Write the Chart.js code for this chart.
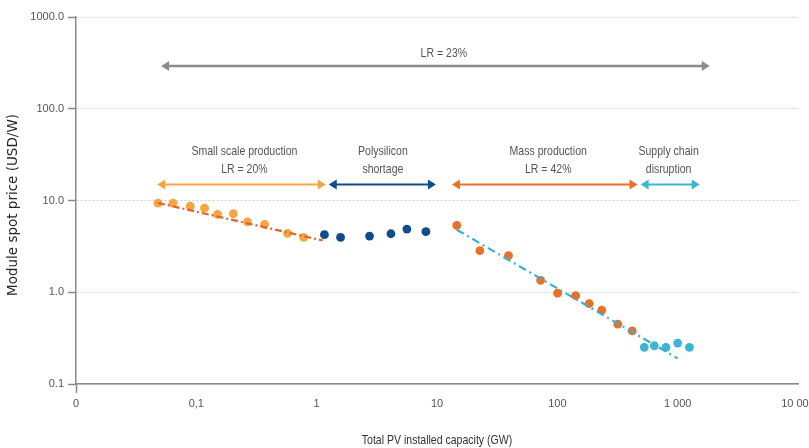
<!DOCTYPE html>
<html>
<head>
<meta charset="utf-8">
<script src="https://cdn.jsdelivr.net/npm/chart.js@4/dist/chart.umd.min.js"></script>
<style>
  html, body { margin: 0; padding: 0; background: #fff; }
</style>
</head>
<body>
<canvas id="chart" width="809" height="448"></canvas>
<script>
// axis ticks
const xTickValues = [0.01, 0.1, 1, 10, 100, 1000, 10000];
const xTickLabels = ["0", "0,1", "1", "10", "100", "1 000", "10 000"];
const yTickValues = [0.1, 1, 10, 100, 1000];

// small scale production
const smallX = [0.048, 0.064, 0.089, 0.117, 0.150, 0.203, 0.266, 0.369, 0.573, 0.78];
const smallY = [9.35, 9.35, 8.67, 8.25, 7.04, 7.17, 5.86, 5.48, 4.38, 3.96];

// polysilicon shortage
const polyX = [1.16, 1.58, 2.75, 4.14, 5.62, 8.09];
const polyY = [4.24, 3.96, 4.09, 4.34, 4.88, 4.57];

// mass production
const massX = [14.6, 22.7, 39.3, 72.6, 100.6, 142, 184, 234, 318, 419];
const massY = [5.35, 2.84, 2.51, 1.35, 0.976, 0.92, 0.753, 0.637, 0.449, 0.379];

// supply chain disruption
const supplyX = [528, 640, 799, 1000, 1252];
const supplyY = [0.251, 0.261, 0.251, 0.279, 0.251];

// fitted learning curves (end points)
const smallTrendX = [0.048, 1.12];
const smallTrendY = [9.4, 3.67];
const massTrendX = [14.6, 1000];
const massTrendY = [4.8, 0.19];

// phase arrows
const arrowFrom = [0.051, 0.0473, 1.26, 13.3, 492];
const arrowTo = [1848, 1.19, 9.8, 464, 1525];
const arrowY = [293, 14.9, 14.9, 14.9, 14.9];
const arrowLabelX = [11.4, 0.251, 3.55, 84, 841];
const arrowLabels = [
  ["LR = 23%"],
  ["Small scale production", "LR = 20%"],
  ["Polysilicon", "shortage"],
  ["Mass production", "LR = 42%"],
  ["Supply chain", "disruption"]
];
const arrowColors = ["#8c8c8c", "#f5a542", "#0e4d8b", "#e8712a", "#3eb4d5"];

const SANS = "'Liberation Sans', Arial, sans-serif";

function pts(xs, ys) {
  return xs.map((x, i) => ({ x, y: ys[i] }));
}

function pointSet(label, xs, ys, color) {
  return {
    label,
    data: pts(xs, ys),
    showLine: false,
    pointRadius: 4.4,
    pointBackgroundColor: color,
    pointBorderWidth: 0,
    order: 1
  };
}

function trendSet(label, xs, ys, color, dash) {
  return {
    label,
    data: pts(xs, ys),
    showLine: true,
    borderColor: color,
    borderWidth: 2.2,
    borderDash: dash,
    pointRadius: 0,
    fill: false,
    order: 0
  };
}

// narrow text: no condensed face installed, so squeeze it horizontally
function narrowText(ctx, text, x, y) {
  ctx.save();
  ctx.translate(x, y);
  ctx.scale(0.81, 1);
  ctx.fillText(text, 0, 0);
  ctx.restore();
}

const annotations = {
  id: "annotations",
  afterDraw(chart) {
    const ctx = chart.ctx;
    const xs = chart.scales.x;
    const ys = chart.scales.y;
    ctx.save();

    arrowFrom.forEach((from, i) => {
      const x1 = xs.getPixelForValue(from);
      const x2 = xs.getPixelForValue(arrowTo[i]);
      const y = ys.getPixelForValue(arrowY[i]);
      const head = 8;
      ctx.strokeStyle = arrowColors[i];
      ctx.fillStyle = arrowColors[i];
      ctx.lineWidth = i === 0 ? 2.5 : 2;
      ctx.beginPath();
      ctx.moveTo(x1 + head - 1, y);
      ctx.lineTo(x2 - head + 1, y);
      ctx.stroke();
      ctx.beginPath();
      ctx.moveTo(x1, y);
      ctx.lineTo(x1 + head, y - 5);
      ctx.lineTo(x1 + head, y + 5);
      ctx.closePath();
      ctx.fill();
      ctx.beginPath();
      ctx.moveTo(x2, y);
      ctx.lineTo(x2 - head, y - 5);
      ctx.lineTo(x2 - head, y + 5);
      ctx.closePath();
      ctx.fill();

      const lx = xs.getPixelForValue(arrowLabelX[i]);
      const lines = arrowLabels[i];
      ctx.fillStyle = "#555";
      ctx.font = "13px " + SANS;
      ctx.textAlign = "center";
      ctx.textBaseline = "middle";
      lines.forEach((t, k) => {
        const off = (lines.length - k) * 18 - 3;
        narrowText(ctx, t, lx, y - off + (lines.length === 1 ? 3 : 0));
      });
    });

    // axis titles
    ctx.fillStyle = "#333";
    ctx.font = "13px " + SANS;
    ctx.textAlign = "center";
    ctx.textBaseline = "middle";
    narrowText(ctx, "Total PV installed capacity (GW)", (chart.chartArea.left + chart.chartArea.right) / 2, 440);

    ctx.translate(13, 205);
    ctx.rotate(-Math.PI / 2);
    ctx.fillStyle = "#262626";
    ctx.font = "13.5px 'DejaVu Sans', sans-serif";
    ctx.fillText("Module spot price (USD/W)", 0, 0);
    ctx.restore();
  }
};

new Chart(document.getElementById("chart"), {
  type: "scatter",
  data: {
    datasets: [
      trendSet("Small scale trend", smallTrendX, smallTrendY, "#e4622b", [7, 3, 2, 3]),
      trendSet("Mass production trend", massTrendX, massTrendY, "#3ab0d0", [8, 4, 2, 4]),
      pointSet("Small scale production", smallX, smallY, "#f5a542"),
      pointSet("Polysilicon shortage", polyX, polyY, "#0e4d8b"),
      pointSet("Mass production", massX, massY, "#e8712a"),
      pointSet("Supply chain disruption", supplyX, supplyY, "#3eb4d5")
    ]
  },
  options: {
    responsive: false,
    animation: false,
    layout: { padding: { top: 17, right: 11, left: 0, bottom: 0 } },
    plugins: {
      legend: { display: false },
      tooltip: { enabled: false }
    },
    scales: {
      x: {
        type: "logarithmic",
        min: 0.01,
        max: 10000,
        afterBuildTicks: (axis) => {
          axis.ticks = xTickValues.map((v) => ({ value: v }));
        },
        afterFit: (scale) => {
          scale.height = 64;
          scale.paddingLeft = 0;
          scale.paddingRight = 0;
        },
        ticks: {
          autoSkip: false,
          maxRotation: 0,
          padding: 4,
          color: "#555",
          font: { family: SANS, size: 11 },
          callback: (v, i) => xTickLabels[i]
        },
        grid: {
          drawOnChartArea: false,
          drawTicks: true,
          tickLength: 9,
          tickColor: (c) => (c.index === 0 ? "#888" : "rgba(0,0,0,0)"),
          tickWidth: 1.5
        },
        border: { color: "#8a8a8a", width: 1.5 }
      },
      y: {
        type: "logarithmic",
        min: 0.1,
        max: 1000,
        afterBuildTicks: (axis) => {
          axis.ticks = yTickValues.map((v) => ({ value: v }));
        },
        afterFit: (scale) => {
          scale.width = 76;
        },
        ticks: {
          autoSkip: false,
          padding: 4,
          color: "#555",
          font: { family: SANS, size: 11 },
          callback: (v) => Number(v).toFixed(1)
        },
        grid: {
          color: "#cfcfcf",
          lineWidth: 1,
          tickLength: 8,
          tickColor: "#888",
          tickWidth: 1.5,
          tickBorderDash: []
        },
        border: { color: "#8a8a8a", width: 1.5, dash: [2, 2] }
      }
    }
  },
  plugins: [annotations]
});
</script>
</body>
</html>
